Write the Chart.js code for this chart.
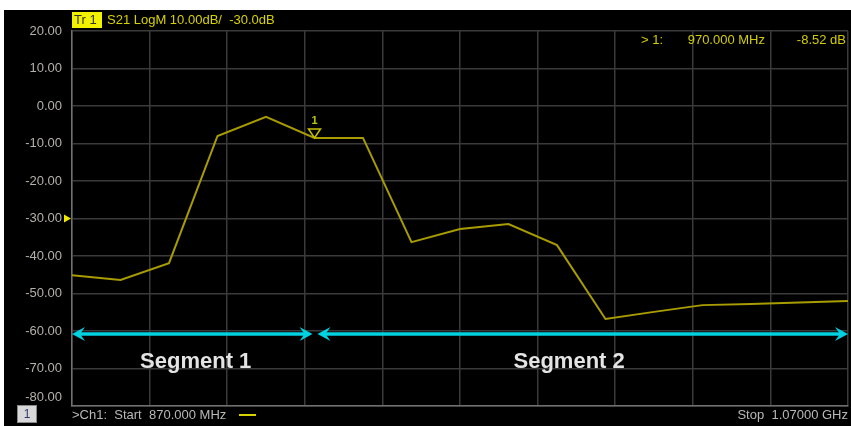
<!DOCTYPE html>
<html>
<head>
<meta charset="utf-8">
<script src="https://cdn.jsdelivr.net/npm/chart.js@4.4.0/dist/chart.umd.min.js"></script>
<style>
  html, body { margin: 0; padding: 0; background: #fff; }
  canvas { display: block; }
</style>
</head>
<body>
<canvas id="trace-chart" width="851" height="426"></canvas>
<script>
// S21 trace, sweep points in display order (segment sweep), dB
const pointIndex = [0, 1, 2, 3, 4, 5, 6, 7, 8, 9, 10, 11, 12, 13, 14, 15, 16];
const s21Values = [-45.1, -46.4, -41.9, -8.0, -2.9, -8.5, -8.5, -36.3, -32.8, -31.5, -37.1, -56.8, -54.9, -53.1, -52.8, -52.4, -52.0];
const yTicks = [20, 10, 0, -10, -20, -30, -40, -50, -60, -70, -80];
const xGrid = [0, 1.6, 3.2, 4.8, 6.4, 8, 9.6, 11.2, 12.8, 14.4, 16];

const segmentNames = ["Segment 1", "Segment 2"];
const segmentStart = [0, 5];
const segmentEnd = [5, 16];
const segmentLabelX = [2.55, 10.25];
const segmentLevel = -60.8;
const segmentLabelLevel = -68.3;

const markerIndex = 5;
const markerText = ["> 1:", "970.000 MHz", "-8.52 dB"];
const refLevel = -30;

const FONT = '"Liberation Sans", Arial, sans-serif';
const TRACE = "#a89c00";
const CYAN = "#00d2e2";

function arrowHead(ctx, x, y, dir) {
  ctx.beginPath();
  ctx.moveTo(x, y);
  ctx.lineTo(x - dir * 13, y - 7);
  ctx.lineTo(x - dir * 8, y);
  ctx.lineTo(x - dir * 13, y + 7);
  ctx.closePath();
  ctx.fill();
}

const analyzerPlugin = {
  id: "analyzer",
  beforeDraw(chart) {
    const ctx = chart.ctx;
    ctx.save();
    ctx.fillStyle = "#fff";
    ctx.fillRect(0, 0, chart.width, chart.height);
    ctx.fillStyle = "#000";
    ctx.fillRect(4, 10, chart.width - 4, chart.height - 10);
    ctx.restore();
  },
  afterDraw(chart) {
    const ctx = chart.ctx;
    const xs = chart.scales.x;
    const ys = chart.scales.y;
    const area = chart.chartArea;
    ctx.save();

    // header
    ctx.fillStyle = "#f2f200";
    ctx.fillRect(72, 12, 30, 16);
    ctx.font = "13px " + FONT;
    ctx.textBaseline = "middle";
    ctx.fillStyle = "#333";
    ctx.textAlign = "left";
    ctx.fillText("Tr 1", 74, 20.5);
    ctx.fillStyle = "#d6d200";
    ctx.fillText("S21 LogM 10.00dB/  -30.0dB", 107, 20.5);

    // y tick labels
    ctx.fillStyle = "#b4b0aa";
    ctx.textAlign = "right";
    yTicks.forEach(v => {
      let y = ys.getPixelForValue(v);
      if (y > area.bottom - 8) y = area.bottom - 9;
      ctx.fillText(v.toFixed(2), 62, y);
    });

    // reference level pointer
    const ry = ys.getPixelForValue(refLevel);
    ctx.fillStyle = "#f0e800";
    ctx.beginPath();
    ctx.moveTo(64, ry - 4);
    ctx.lineTo(71, ry);
    ctx.lineTo(64, ry + 4);
    ctx.closePath();
    ctx.fill();

    // marker readout
    ctx.fillStyle = "#d2cc00";
    ctx.textAlign = "left";
    ctx.fillText(markerText[0], 641, 40);
    ctx.textAlign = "right";
    ctx.fillText(markerText[1], 765, 40);
    ctx.fillText(markerText[2], 846, 40);

    // marker 1 on trace
    const mx = xs.getPixelForValue(pointIndex[markerIndex]);
    const my = ys.getPixelForValue(s21Values[markerIndex]);
    ctx.strokeStyle = "#c8c000";
    ctx.lineWidth = 1.5;
    ctx.beginPath();
    ctx.moveTo(mx, my);
    ctx.lineTo(mx - 6, my - 9);
    ctx.lineTo(mx + 6, my - 9);
    ctx.closePath();
    ctx.stroke();
    ctx.fillStyle = "#b8c800";
    ctx.font = "bold 11px " + FONT;
    ctx.textAlign = "center";
    ctx.fillText("1", mx, my - 17);

    // segment arrows
    const sy = ys.getPixelForValue(segmentLevel);
    ctx.strokeStyle = CYAN;
    ctx.fillStyle = CYAN;
    ctx.lineWidth = 3.5;
    segmentNames.forEach((name, i) => {
      const x0 = xs.getPixelForValue(segmentStart[i]) + (i > 0 ? 3 : 0);
      const x1 = xs.getPixelForValue(segmentEnd[i]) - (i === 0 ? 2 : 0);
      ctx.beginPath();
      ctx.moveTo(x0 + 6, sy);
      ctx.lineTo(x1 - 6, sy);
      ctx.stroke();
      arrowHead(ctx, x0, sy, -1);
      arrowHead(ctx, x1, sy, 1);
    });
    ctx.fillStyle = "#e4e4e4";
    ctx.font = "bold 22px " + FONT;
    ctx.textAlign = "center";
    segmentNames.forEach((name, i) => {
      ctx.fillText(name, xs.getPixelForValue(segmentLabelX[i]), ys.getPixelForValue(segmentLabelLevel));
    });

    // footer
    ctx.fillStyle = "#d8d8d8";
    ctx.fillRect(17, 405, 20, 18);
    ctx.strokeStyle = "#888";
    ctx.lineWidth = 1;
    ctx.strokeRect(17.5, 405.5, 19, 17);
    ctx.fillStyle = "#2a3a70";
    ctx.font = "12px " + FONT;
    ctx.fillText("1", 27, 414.5);
    ctx.font = "13px " + FONT;
    ctx.fillStyle = "#b8b8b8";
    ctx.textAlign = "left";
    ctx.fillText(">Ch1:  Start  870.000 MHz", 72, 415);
    ctx.strokeStyle = "#d6d200";
    ctx.lineWidth = 2;
    ctx.beginPath();
    ctx.moveTo(239, 415);
    ctx.lineTo(256, 415);
    ctx.stroke();
    ctx.textAlign = "right";
    ctx.fillText("Stop  1.07000 GHz", 848, 415);
    ctx.restore();
  }
};

const ctx = document.getElementById("trace-chart").getContext("2d");
new Chart(ctx, {
  type: "line",
  data: {
    datasets: [{
      label: "S21",
      data: pointIndex.map((x, i) => ({ x: x, y: s21Values[i] })),
      borderColor: TRACE,
      borderWidth: 2,
      pointRadius: 0,
      tension: 0,
      fill: false
    }]
  },
  options: {
    responsive: false,
    animation: false,
    layout: { padding: { left: 72, top: 31, right: 3, bottom: 20 } },
    plugins: { legend: { display: false }, tooltip: { enabled: false } },
    scales: {
      x: {
        type: "linear",
        min: 0,
        max: 16,
        afterBuildTicks: s => { s.ticks = xGrid.map(v => ({ value: v })); },
        ticks: { display: false },
        grid: { color: "#3a3a3a", lineWidth: 1.5, drawTicks: false },
        border: { color: "#707070", width: 1.5 }
      },
      y: {
        min: -80,
        max: 20,
        afterBuildTicks: s => { s.ticks = yTicks.map(v => ({ value: v })); },
        ticks: { display: false },
        grid: { color: "#3a3a3a", lineWidth: 1.5, drawTicks: false },
        border: { color: "#707070", width: 1.5 }
      }
    }
  },
  plugins: [analyzerPlugin]
});
</script>
</body>
</html>
